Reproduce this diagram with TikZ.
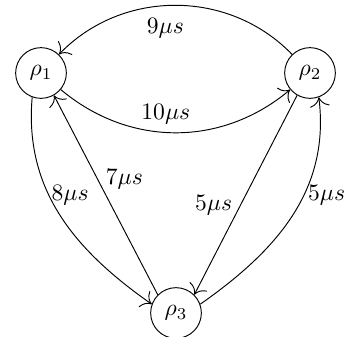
\documentclass[tikz,border=0pt]{standalone}
\usepackage{tikz}
\usetikzlibrary{arrows.meta}

\begin{document}
\begin{tikzpicture}[x=0.424pt,y=0.424pt,>={To[scale=1.6]}]
\tikzstyle{proc}=[circle,draw,minimum size=21.5pt,inner sep=0pt]
\useasboundingbox (0,0) rectangle (350,336);

\node [proc] (P1) at (41,263) {$\rho_1$};
\node [proc] (P2) at (310,263) {$\rho_2$};
\node [proc] (P3) at (176,23) {$\rho_3$};

\draw[->] (P2) to[bend right=46] node[pos=0.54,below=2pt] {$9\mu s$} (P1);
\draw[->] (P1) to[bend right=40] node[pos=0.46,above] {$10\mu s$} (P2);
\draw[->] (P1.-110) to[out=-95,in=145] node[pos=0.4,right,inner sep=1pt] {$8\mu s$} (P3.160);
\draw[->] (P3.135) -- node[pos=0.58,right] {$7\mu s$} (P1.-60);
\draw[->] (P2.-120) -- node[pos=0.55,left] {$5\mu s$} (P3.45);
\draw[->] (P3.20) to[out=35,in=-83] node[pos=0.6,right,inner sep=1.5pt] {$5\mu s$} (P2.-70);

\end{tikzpicture}
\end{document}
